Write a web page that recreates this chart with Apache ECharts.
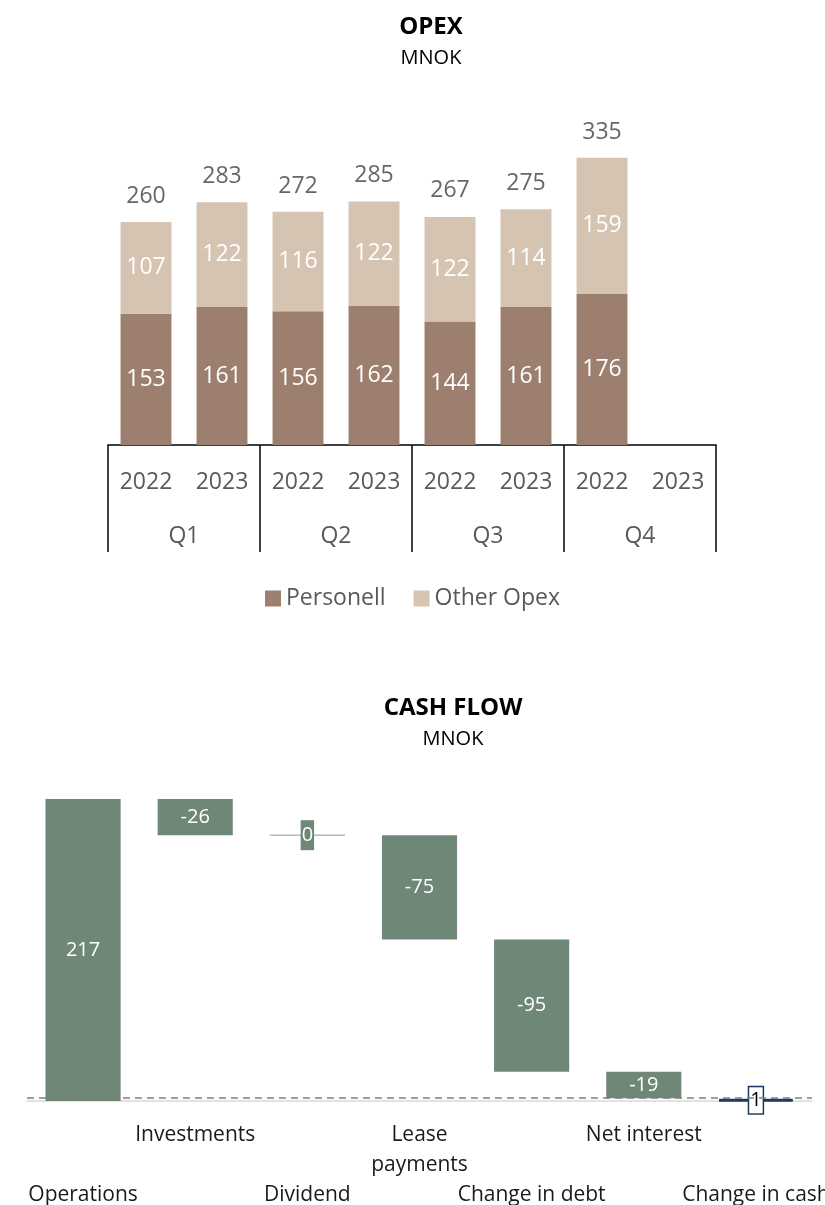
<!DOCTYPE html>
<html>
<head>
<meta charset="utf-8">
<script src="https://cdn.jsdelivr.net/npm/echarts@6/dist/echarts.min.js"></script>
<style>
  html, body { margin: 0; padding: 0; background: #fff; }
  #chart { width: 825px; height: 1205px; }
</style>
</head>
<body>
<div id="chart"></div>
<script>
// OPEX data
var quarters = ['Q1', 'Q2', 'Q3', 'Q4']
var years = ['2022', '2023']
var personell = [153, 161, 156, 162, 144, 161, 176, null]
var otherOpex = [107, 122, 116, 122, 122, 114, 159, null]
var opexTotals = [260, 283, 272, 285, 267, 275, 335, null]

// cash flow data
var cashItems = ['Operations', 'Investments', 'Dividend', 'Lease\npayments', 'Change in debt', 'Net interest', 'Change in cash']
var cashValues = [217, -26, 0, -75, -95, -19, 1]

var font = 'Open Sans'

// one category per quarter/year pair
var opexCats = []
quarters.forEach(function (q) {
  years.forEach(function (y) { opexCats.push(q + ' ' + y) })
})

// waterfall: invisible base + visible step
var cashBase = []
var cashStep = []
var running = 0
cashValues.forEach(function (v, i) {
  if (i === cashValues.length - 1) {
    cashBase.push(0)
    cashStep.push(Math.abs(v))
    return
  }
  if (v >= 0) {
    cashBase.push(running)
    cashStep.push(v)
    running += v
  } else {
    running += v
    cashBase.push(running)
    cashStep.push(-v)
  }
})

var green = '#6F8777'
var navy = '#1F3864'

var stepData = cashStep.map(function (v, i) {
  var item = { value: v }
  if (i === 2) {
    item.itemStyle = { color: green, borderColor: '#A9BAAE', borderWidth: 1 }
    item.label = { backgroundColor: green, padding: [5, 1] }
  }
  if (i === cashStep.length - 1) {
    item.itemStyle = { color: navy, borderColor: navy, borderWidth: 3 }
    item.label = {
      color: '#000', backgroundColor: '#fff', borderColor: navy,
      borderWidth: 1.5, padding: [3, 1]
    }
  }
  return item
})

var myChart = echarts.init(document.getElementById('chart'))
myChart.setOption({
  animation: false,
  textStyle: { fontFamily: font },
  title: [
    {
      text: 'OPEX', subtext: 'MNOK', left: 426, top: 10, textAlign: 'center', itemGap: 9,
      textStyle: { fontFamily: font, fontSize: 24, fontWeight: 'bold', color: '#000' },
      subtextStyle: { fontFamily: font, fontSize: 20, color: '#000' }
    },
    {
      text: 'CASH FLOW', subtext: 'MNOK', left: 448, top: 691, textAlign: 'center', itemGap: 9,
      textStyle: { fontFamily: font, fontSize: 24, fontWeight: 'bold', color: '#000' },
      subtextStyle: { fontFamily: font, fontSize: 20, color: '#000' }
    }
  ],
  legend: {
    data: ['Personell', 'Other Opex'],
    top: 582,
    left: 'center',
    itemWidth: 16,
    itemHeight: 16,
    itemGap: 28,
    icon: 'rect',
    textStyle: { fontFamily: font, fontSize: 23, color: '#595959' }
  },
  grid: [
    { left: 108, right: 109, top: 102, bottom: 760, outerBoundsMode: 'none' },
    { left: 27, right: 13, top: 799, bottom: 104, outerBoundsMode: 'none' }
  ],
  xAxis: [
    {
      type: 'category', gridIndex: 0, data: opexCats, position: 'bottom',
      axisLine: { show: false }, axisTick: { show: false },
      axisLabel: {
        interval: 0, margin: 26, fontFamily: font, fontSize: 23, color: '#595959',
        formatter: function (v) { return v.split(' ')[1] }
      }
    },
    {
      type: 'category', gridIndex: 0, data: quarters, position: 'bottom',
      axisLine: { show: true, lineStyle: { color: '#000', width: 1.5 } },
      axisTick: { show: true, interval: 0, length: 107, lineStyle: { color: '#000', width: 1.5 } },
      axisLabel: { interval: 0, margin: 80, fontFamily: font, fontSize: 23, color: '#595959' }
    },
    {
      type: 'category', gridIndex: 1, data: cashItems,
      axisLine: { show: true, lineStyle: { color: '#D9D9D9', width: 1.5 } },
      axisTick: { show: false },
      axisLabel: {
        interval: 0, margin: 19, fontFamily: font, fontSize: 21, color: '#1a1a1a',
        lineHeight: 30, hideOverlap: false,
        formatter: function (v, i) { return i % 2 === 0 ? '\n\n' + v : v }
      }
    }
  ],
  yAxis: [
    { type: 'value', gridIndex: 0, min: 0, max: 400, show: false },
    { type: 'value', gridIndex: 1, min: 0, max: 217, show: false }
  ],
  series: [
    {
      name: 'Personell', type: 'bar', stack: 'opex', xAxisIndex: 0, yAxisIndex: 0,
      barWidth: '67%', data: personell,
      itemStyle: { color: '#9C7F6E' },
      label: { show: true, position: 'inside', color: '#fff', fontFamily: font, fontSize: 23 }
    },
    {
      name: 'Other Opex', type: 'bar', stack: 'opex', xAxisIndex: 0, yAxisIndex: 0,
      barWidth: '67%', data: otherOpex,
      itemStyle: { color: '#D4C4B1' },
      label: { show: true, position: 'inside', color: '#fff', fontFamily: font, fontSize: 23 }
    },
    {
      name: 'Total', type: 'scatter', xAxisIndex: 0, yAxisIndex: 0,
      data: opexTotals, symbolSize: 0, silent: true,
      label: { show: true, position: 'top', distance: 14, color: '#404040', fontFamily: font, fontSize: 23 }
    },
    {
      name: 'base', type: 'bar', stack: 'cash', xAxisIndex: 2, yAxisIndex: 1,
      barWidth: '67%', data: cashBase, silent: true,
      itemStyle: { color: 'transparent' }
    },
    {
      name: 'Cash flow', type: 'bar', stack: 'cash', xAxisIndex: 2, yAxisIndex: 1,
      barWidth: '67%', data: stepData,
      itemStyle: { color: green },
      label: {
        show: true, position: 'inside', color: '#fff', fontFamily: font, fontSize: 20,
        formatter: function (p) { return String(cashValues[p.dataIndex]) }
      },
      markLine: {
        silent: true, symbol: 'none', label: { show: false },
        lineStyle: { color: '#7F7F7F', type: [7, 5], width: 1.5 },
        data: [{ yAxis: running }]
      }
    }
  ]
})
</script>
</body>
</html>
